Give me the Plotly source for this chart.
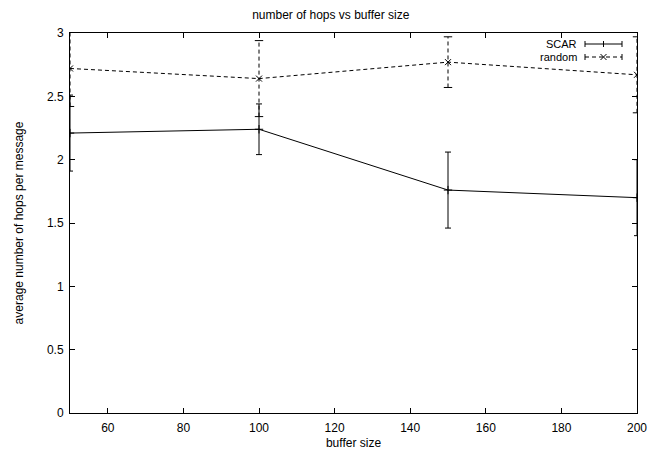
import plotly.graph_objects as go

buffer_size = [50, 100, 150, 200]
scar_hops = [2.21, 2.24, 1.76, 1.70]
scar_err = [0.30, 0.20, 0.30, 0.30]
random_hops = [2.72, 2.64, 2.77, 2.67]
random_err = [0.30, 0.30, 0.20, 0.30]

x_ticks = [60, 80, 100, 120, 140, 160, 180, 200]
y_ticks = [0, 0.5, 1, 1.5, 2, 2.5, 3]
y_tick_text = ["0", "0.5", "1", "1.5", "2", "2.5", "3"]

FONT = "Liberation Sans, Arial, Helvetica, sans-serif"
FS = 12
W, H = 658, 455
L, R, T, B = 70, 21, 33, 42
PW, PH = W - L - R, H - T - B

fig = go.Figure()

# SCAR: solid line with solid error bars
fig.add_trace(go.Scatter(
    x=buffer_size, y=scar_hops, mode="lines+markers", name="SCAR",
    line=dict(color="black", width=1),
    marker=dict(symbol="cross-thin-open", size=6, color="black",
                line=dict(color="black", width=1)),
    error_y=dict(type="data", array=scar_err, visible=True,
                 color="black", thickness=1, width=3),
    cliponaxis=True, showlegend=False))

# random: dashed stems for error bars
stem_x, stem_y, cap_x, cap_y = [], [], [], []
for xv, yv, ev in zip(buffer_size, random_hops, random_err):
    stem_x += [xv, xv, None]
    stem_y += [yv - ev, yv + ev, None]
    cap_x += [xv, xv]
    cap_y += [yv - ev, yv + ev]
fig.add_trace(go.Scatter(
    x=stem_x, y=stem_y, mode="lines",
    line=dict(color="black", width=1, dash="4px,3px"),
    showlegend=False, hoverinfo="skip"))
fig.add_trace(go.Scatter(
    x=cap_x, y=cap_y, mode="markers",
    marker=dict(symbol="line-ew-open", size=6, color="black",
                line=dict(color="black", width=1)),
    showlegend=False, hoverinfo="skip"))
fig.add_trace(go.Scatter(
    x=buffer_size, y=random_hops, mode="lines+markers", name="random",
    line=dict(color="black", width=1, dash="4px,3px"),
    marker=dict(symbol="x-thin-open", size=6, color="black",
                line=dict(color="black", width=1)),
    showlegend=False))


def px(xp):
    return (xp - L) / PW


def py(yp):
    return (H - B - yp) / PH


# gnuplot-style key (text on the left, sample on the right)
shapes = []
annotations = []
key_rows = [("SCAR", 44, None), ("random", 57, "4px,3px")]
x0, x1 = 585, 622
for label, yrow, dash in key_rows:
    annotations.append(dict(
        x=px(579), y=py(yrow), xref="paper", yref="paper", text=label,
        showarrow=False, xanchor="right", yanchor="middle",
        font=dict(family=FONT, size=11, color="black")))
    shapes.append(dict(type="line", xref="paper", yref="paper",
                       x0=px(x0), x1=px(x1), y0=py(yrow), y1=py(yrow),
                       line=dict(color="black", width=1,
                                 dash=dash if dash else "solid")))
    for xc in (x0, x1):
        shapes.append(dict(type="line", xref="paper", yref="paper",
                           x0=px(xc), x1=px(xc), y0=py(yrow - 3), y1=py(yrow + 3),
                           line=dict(color="black", width=1)))
    xm = (x0 + x1) / 2
    if label == "SCAR":
        shapes.append(dict(type="line", xref="paper", yref="paper",
                           x0=px(xm), x1=px(xm), y0=py(yrow - 3), y1=py(yrow + 3),
                           line=dict(color="black", width=1)))
    else:
        shapes.append(dict(type="line", xref="paper", yref="paper",
                           x0=px(xm - 3), x1=px(xm + 3), y0=py(yrow - 3), y1=py(yrow + 3),
                           line=dict(color="black", width=1)))
        shapes.append(dict(type="line", xref="paper", yref="paper",
                           x0=px(xm - 3), x1=px(xm + 3), y0=py(yrow + 3), y1=py(yrow - 3),
                           line=dict(color="black", width=1)))

fig.update_layout(
    width=W, height=H,
    margin=dict(l=L, r=R, t=T, b=B, pad=0, autoexpand=False),
    paper_bgcolor="white", plot_bgcolor="white",
    font=dict(family=FONT, size=FS, color="black"),
    title=dict(text="number of hops vs buffer size", x=px(355), xanchor="center",
               y=1 - 15 / H, yanchor="middle",
               font=dict(family=FONT, size=FS, color="black")),
    showlegend=False,
    shapes=shapes,
    annotations=annotations,
    xaxis=dict(range=[50, 200], tickvals=x_ticks, ticks="inside", ticklen=5,
               tickcolor="black", showline=True, linecolor="black", linewidth=1,
               mirror="ticks", showgrid=False, zeroline=False, automargin=False,
               ticklabelstandoff=4,
               tickfont=dict(family=FONT, size=FS, color="black"),
               title=dict(text="buffer size", standoff=4,
                          font=dict(family=FONT, size=FS, color="black"))),
    yaxis=dict(range=[0, 3], tickvals=y_ticks, ticktext=y_tick_text,
               ticks="inside", ticklen=5,
               tickcolor="black", showline=True, linecolor="black", linewidth=1,
               mirror="ticks", showgrid=False, zeroline=False, automargin=False,
               ticklabelstandoff=3,
               tickfont=dict(family=FONT, size=FS, color="black"),
               title=dict(text="average number of hops per message", standoff=20,
                          font=dict(family=FONT, size=FS, color="black"))),
)

fig.write_html("out.html")
